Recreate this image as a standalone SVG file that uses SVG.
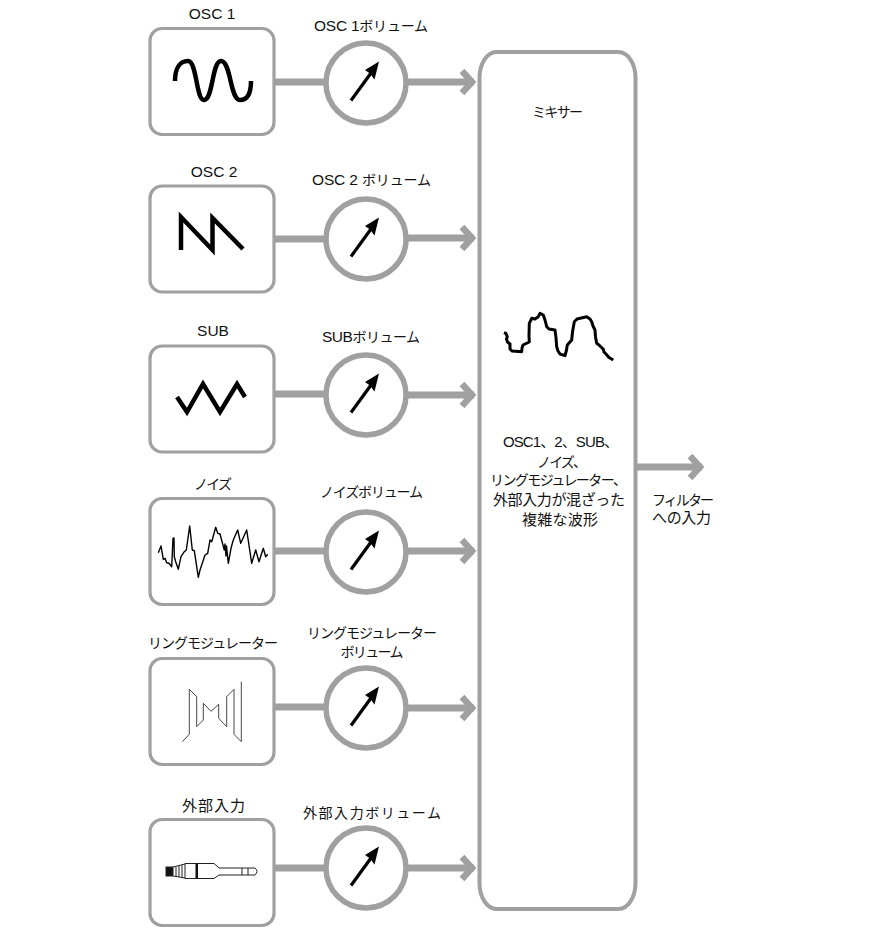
<svg xmlns="http://www.w3.org/2000/svg" width="896" height="943" viewBox="0 0 896 943">
<style>
text{font-family:"Liberation Sans","Noto Sans CJK JP",sans-serif;font-size:15px;fill:#111;text-anchor:middle}
.k{font-size:14px}
.l{font-size:15.500px}
.s{text-anchor:start}
.box{fill:#fff;stroke:#a0a0a0;stroke-width:3.2}
.dial{fill:#fff;stroke:#a0a0a0;stroke-width:5.500}
.wave{fill:none;stroke:#000;stroke-width:4.500;stroke-linejoin:miter}
.thin{fill:none;stroke:#000;stroke-width:1.400;stroke-linejoin:round}
.hair{fill:none;stroke:#333;stroke-width:.9}
.conn{fill:none;stroke:#a0a0a0;stroke-width:7}
</style>
<defs>
<marker id="chev" markerUnits="userSpaceOnUse" markerWidth="24" markerHeight="32" viewBox="0 0 24 32" refX="18" refY="16" orient="auto">
<path d="M6,5 L16,16 L6,27" fill="none" stroke="#a0a0a0" stroke-width="6.500"/>
</marker>
<g id="needle">
<path d="M-15,17.500 L5,-10" stroke="#000" stroke-width="3.200" fill="none"/>
<path d="M13,-21.500 L-1,-13 L4,-9.500 L8.500,-3.500 Z" fill="#000"/>
</g>
</defs>
<rect width="896" height="943" fill="#fff"/>

<g id="connectors">
<path class="conn" d="M275,82 H325"/>
<path class="conn" d="M275,239 H325"/>
<path class="conn" d="M275,394 H325"/>
<path class="conn" d="M275,551 H325"/>
<path class="conn" d="M275,707 H325"/>
<path class="conn" d="M275,868 H325"/>
<path class="conn" d="M408,82 H474" marker-end="url(#chev)"/>
<path class="conn" d="M408,238 H474" marker-end="url(#chev)"/>
<path class="conn" d="M408,395 H474" marker-end="url(#chev)"/>
<path class="conn" d="M408,551 H474" marker-end="url(#chev)"/>
<path class="conn" d="M408,708 H474" marker-end="url(#chev)"/>
<path class="conn" d="M408,868 H474" marker-end="url(#chev)"/>
<path class="conn" d="M636,467 H702" marker-end="url(#chev)"/>
</g>

<g id="osc1">
<text class="l" x="212" y="19">OSC 1</text>
<rect class="box" x="150" y="28.500" width="124" height="106" rx="12"/>
<path class="wave" d="M175,81 C175,68 180,61 188,61 C197,61 196,100 204,100 C213,100 212,61 221,61 C231,61 230,100 240,100 C247,100 251,94 251,81"/>
</g>
<g id="osc2">
<text class="l" x="214" y="177">OSC 2</text>
<rect class="box" x="150" y="186" width="124" height="106" rx="12"/>
<path class="wave" d="M181,250 V217 L212.500,250 V218 L243,249"/>
</g>
<g id="sub">
<text class="l" x="213" y="336">SUB</text>
<rect class="box" x="150" y="346" width="124" height="106" rx="12"/>
<path class="wave" d="M177,397 L187,412 L203,384 L220,412 L237,384 L245,397"/>
</g>
<g id="noise">
<text class="k" x="213" y="489" textLength="38">ノイズ</text>
<rect class="box" x="150" y="498.500" width="124" height="106" rx="12"/>
<polyline class="thin" points="158.300,552.700 161,546 163.300,559.300 165,558.300 166.700,562.700 169,563.300 171.700,566.700 173,538.300 174,538 174.300,556.700 175.700,561.700 178.300,569.300 181,556.700 184.300,551.700 186.300,550 189.700,526 192.300,550 194.300,550.700 198.300,577.300 200,570 202.300,563.300 205,555 207.700,553.300 210,540 211.700,541.700 215.700,527.300 217.700,533.300 220,534 224.300,550 225,544 226,556 226.500,546 228.300,563.300 231,548.300 233.300,540 237.700,530 240.700,543.300 246.700,530 251.700,563.300 255.700,550 259,561.700 263.300,548.300 265.700,556.700 267.700,554.300"/>
</g>
<g id="ringmod">
<text class="k" x="213" y="648" textLength="130">リングモジュレーター</text>
<rect class="box" x="150" y="658.500" width="124" height="106" rx="12"/>
<polyline class="hair" points="182.300,741.700 189.300,734.300 189.300,689.300 196.700,696.700 196.700,726.700 203.300,720 203.300,703.300 211,711.300 218.700,704.300 218.700,718.300 226.700,726.700 226.700,696.700 234,689.300 234,734.300 241.300,741.700 241.300,681.700"/>
</g>
<g id="extin">
<text x="213.500" y="811" textLength="63">外部入力</text>
<rect class="box" x="150" y="819.500" width="124" height="106" rx="12"/>
<g fill="none" stroke="#222" stroke-width="1">
<rect x="166" y="867" width="7" height="9" fill="#111"/>
<path d="M173,867 L185,864 M173,876 L185,878 M176,866.500 V876.500 M179,865.500 V877 M182,865 V877.500"/>
<path d="M185,863.500 H214 L219,868 H255 Q259,871.500 255,875 H219 L214,878.500 H185 Z"/>
<path d="M242,868 V875 M248,868 V875"/>
</g>
<rect x="195.500" y="863.500" width="2.500" height="15" fill="#111"/>
</g>

<g id="vol1">
<text x="371" y="31" textLength="114"><tspan class="l">OSC 1</tspan><tspan class="k">ボリューム</tspan></text>
<circle class="dial" cx="366" cy="83" r="40"/>
<use href="#needle" x="366" y="83"/>
</g>
<g id="vol2">
<text x="371.500" y="185" textLength="119"><tspan class="l">OSC 2 </tspan><tspan class="k">ボリューム</tspan></text>
<circle class="dial" cx="366" cy="239" r="40"/>
<use href="#needle" x="366" y="239"/>
</g>
<g id="vol3">
<text x="371" y="342" textLength="98"><tspan class="l">SUB</tspan><tspan class="k">ボリューム</tspan></text>
<circle class="dial" cx="366" cy="395" r="40"/>
<use href="#needle" x="366" y="395"/>
</g>
<g id="vol4">
<text class="k" x="371.500" y="497" textLength="103">ノイズボリューム</text>
<circle class="dial" cx="366" cy="552" r="40"/>
<use href="#needle" x="366" y="552"/>
</g>
<g id="vol5">
<text class="k" x="372" y="638" textLength="130">リングモジュレーター</text>
<text class="k" x="372" y="657" textLength="63">ボリューム</text>
<circle class="dial" cx="366" cy="708" r="40"/>
<use href="#needle" x="366" y="708"/>
</g>
<g id="vol6">
<text class="k" x="372" y="818" textLength="138">外部入力ボリューム</text>
<circle class="dial" cx="366" cy="868" r="40"/>
<use href="#needle" x="366" y="868"/>
</g>

<g id="mixer">
<rect x="479.500" y="52" width="156" height="857" rx="17" ry="26" fill="#fff" stroke="#a0a0a0" stroke-width="4"/>
<text class="k" x="557.500" y="117" textLength="51">ミキサー</text>
<path fill="none" stroke="#000" stroke-width="3" stroke-linejoin="round" d="M504,332.700 L506,333.500 L507.300,336.700 L506.500,339 L507.500,342 L510,344 L510,349 L512,351 L521.700,351.700 L522,348 L523,345 L529.300,342 L529,336 L529.300,323.300 L531.700,318.300 L535,319 L538.300,316.700 L540,313.300 L543.300,315 L545,320 L546.700,326.700 L549,329 L555,330 L556,338 L556.700,346.700 L558,351 L560,354 L565,355.700 L566.500,350 L567.300,345 L571.700,340 L572.500,332 L574.300,321.700 L577,319 L586.700,316.700 L590,319 L591.700,321.700 L593,326 L595,330 L595.500,337 L596.700,343.300 L599,345 L603.300,349.300 L604,352 L606,354 L609,357.500 L613.300,360"/>
<text x="561" y="447" textLength="116">OSC1、2、SUB、</text>
<text class="k s" x="537" y="467" textLength="50">ノイズ、</text>
<text class="k s" x="490" y="485" textLength="137">リングモジュレーター、</text>
<text x="559" y="505" textLength="132">外部入力が混ざった</text>
<text x="560" y="525" textLength="76">複雑な波形</text>
</g>

<g id="output-label">
<text class="k" x="683" y="505" textLength="62">フィルター</text>
<text x="681.500" y="523" textLength="59">への入力</text>
</g>
</svg>
